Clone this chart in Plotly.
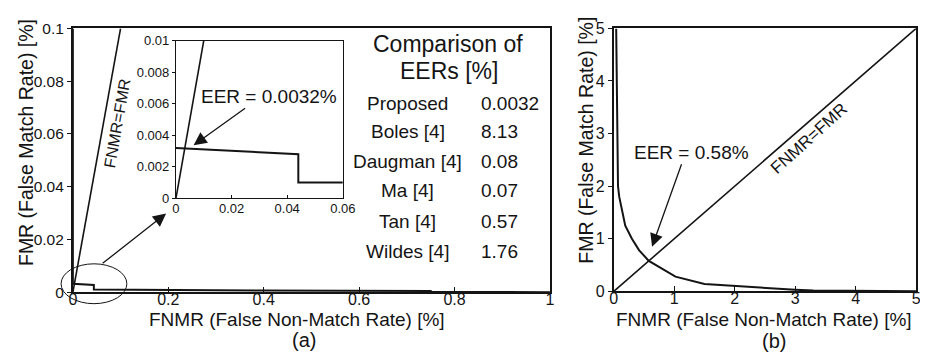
import plotly.graph_objects as go

W, H = 928, 355
FONT = "Liberation Sans, Arial, sans-serif"
INK = "#141414"

# ---- data ----
# (a) main DET curve (FNMR %, FMR %)
a_fnmr = [0.0, 0.0, 0.044, 0.044, 0.4, 0.75, 0.75, 0.93, 0.93, 1.0]
a_fmr = [0.1, 0.0032, 0.0028, 0.0011, 0.0007, 0.0005, 0.0002, 0.0002, 0.0, 0.0]
# (a) inset curve
in_fnmr = [0.0, 0.044, 0.044, 0.06]
in_fmr = [0.0032, 0.0028, 0.001, 0.001]
# (b) DET curve
b_fnmr = [0.04, 0.045, 0.05, 0.06, 0.07, 0.09, 0.13, 0.19, 0.3, 0.42, 0.58, 0.75, 1.02,
          1.5, 2.05, 2.58, 3.0, 3.3, 4.0, 5.0]
b_fmr = [5.0, 4.6, 3.5, 2.5, 2.0, 1.8, 1.6, 1.25, 1.0, 0.78, 0.58, 0.46, 0.28,
         0.14, 0.1, 0.05, 0.03, 0.015, 0.003, 0.0]
# EER lines FNMR = FMR
diag_a = [0.0, 0.1]
diag_in = [0.0, 0.01]
diag_b = [0.0, 5.0]

# comparison table
methods = ["Proposed", "Boles [4]", "Daugman [4]", "Ma [4]", "Tan [4]", "Wildes [4]"]
eers = ["0.0032", "8.13", "0.08", "0.07", "0.57", "1.76"]

a_xticks = [0, 0.2, 0.4, 0.6, 0.8, 1]
a_xtext = ["0", "0.2", "0.4", "0.6", "0.8", "1"]
a_yticks = [0, 0.02, 0.04, 0.06, 0.08, 0.1]
a_ytext = ["0", "0.02", "0.04", "0.06", "0.08", "0.1"]
in_xticks = [0, 0.02, 0.04, 0.06]
in_xtext = ["0", "0.02", "0.04", "0.06"]
in_yticks = [0, 0.002, 0.004, 0.006, 0.008, 0.01]
in_ytext = ["0", "0.002", "0.004", "0.006", "0.008", "0.01"]
b_ticks = [0, 1, 2, 3, 4, 5]


def px(x):
    return x / W


def py(y):
    return 1 - y / H


fig = go.Figure()
line = dict(color=INK, width=2)
thin = dict(color=INK, width=1.6)

fig.add_trace(go.Scatter(x=a_fnmr, y=a_fmr, mode="lines", line=line, xaxis="x", yaxis="y"))
fig.add_trace(go.Scatter(x=diag_a, y=diag_a, mode="lines", line=thin, xaxis="x", yaxis="y"))
fig.add_trace(go.Scatter(x=in_fnmr, y=in_fmr, mode="lines", line=line, xaxis="x2", yaxis="y2"))
fig.add_trace(go.Scatter(x=diag_in, y=diag_in, mode="lines", line=thin, xaxis="x2", yaxis="y2"))
fig.add_trace(go.Scatter(x=b_fnmr, y=b_fmr, mode="lines", line=line, xaxis="x3", yaxis="y3"))
fig.add_trace(go.Scatter(x=diag_b, y=diag_b, mode="lines", line=thin, xaxis="x3", yaxis="y3"))

ax_common = dict(showgrid=False, zeroline=False, showline=True, linecolor=INK,
                 mirror=True, tickcolor=INK, fixedrange=True)

fig.update_layout(
    width=W, height=H,
    margin=dict(l=0, r=0, t=0, b=0),
    paper_bgcolor="white", plot_bgcolor="white",
    showlegend=False,
    font=dict(family=FONT, color=INK),
    xaxis=dict(domain=[px(62), px(548)], range=[0, 1], tickvals=a_xticks, ticktext=a_xtext,
               ticks="inside", ticklen=5, linewidth=1.8, tickfont=dict(size=16),
               ticklabelstandoff=-8, anchor="y", **ax_common),
    yaxis=dict(domain=[py(290), py(12)], range=[0, 0.1], tickvals=a_yticks, ticktext=a_ytext,
               ticks="outside", ticklen=4, linewidth=1.8, tickfont=dict(size=15.5),
               anchor="x", **ax_common),
    xaxis2=dict(domain=[px(167), px(337)], range=[0, 0.06], tickvals=in_xticks, ticktext=in_xtext,
                ticks="inside", ticklen=3, linewidth=1.2, tickfont=dict(size=13),
                ticklabelstandoff=-2, anchor="y2", **ax_common),
    yaxis2=dict(domain=[py(191), py(25)], range=[0, 0.01], tickvals=in_yticks, ticktext=in_ytext,
                ticks="outside", ticklen=3, linewidth=1.2, tickfont=dict(size=13),
                anchor="x2", **ax_common),
    xaxis3=dict(domain=[px(613), px(921)], range=[0, 5], tickvals=b_ticks,
                ticks="inside", ticklen=5, linewidth=1.8, tickfont=dict(size=16),
                ticklabelstandoff=-8, anchor="y3", **ax_common),
    yaxis3=dict(domain=[py(289), py(12)], range=[0, 5], tickvals=b_ticks,
                ticks="outside", ticklen=4, linewidth=1.8, tickfont=dict(size=16),
                anchor="x3", **ax_common),
)

ann = []


def text(x, y, s, size, angle=0, xanchor="center"):
    ann.append(dict(x=px(x), y=py(y), xref="paper", yref="paper", text=s, showarrow=False,
                    font=dict(size=size, family=FONT, color=INK), textangle=angle,
                    xanchor=xanchor, yanchor="middle", borderpad=0))


def arrow(tx, ty, hx, hy):
    ann.append(dict(x=px(hx), y=py(hy), xref="paper", yref="paper", text="", showarrow=True,
                    ax=tx - hx, ay=ty - hy, arrowhead=2, arrowsize=2.0, arrowwidth=1.3,
                    arrowcolor=INK))


# axis titles
text(15, 132, "FMR (False Match Rate) [%]", 19.5, -90)
text(585, 130, "FMR (False Match Rate) [%]", 19.5, -90)
text(290, 319, "FNMR (False Non-Match Rate) [%]", 19)
text(766, 319, "FNMR (False Non-Match Rate) [%]", 19)
text(297, 340, "(a)", 20)
text(776, 341, "(b)", 20)

# line labels
text(107, 112, "FNMR=FMR", 16, -80)
text(812, 128, "FNMR=FMR", 17, -42)

# EER labels and arrows
text(262, 84, "EER = 0.0032%", 19)
arrow(238, 97, 185, 135)
text(692, 143, "EER = 0.58%", 19)
arrow(682, 158, 652, 242)
arrow(92, 258, 157, 207)

# table
text(444, 28, "Comparison of", 23)
text(445, 57, "EERs [%]", 23)
row_y = [91, 121, 152, 183, 215, 247]
for m, v, yy in zip(methods, eers, row_y):
    text(403, yy, m, 19)
    text(477, yy, v, 19, xanchor="left")

fig.update_layout(annotations=ann)

fig.add_shape(type="circle", xref="paper", yref="paper",
              x0=px(50), x1=px(117), y0=py(302), y1=py(260),
              line=dict(color=INK, width=1))

fig.write_html("out.html")
